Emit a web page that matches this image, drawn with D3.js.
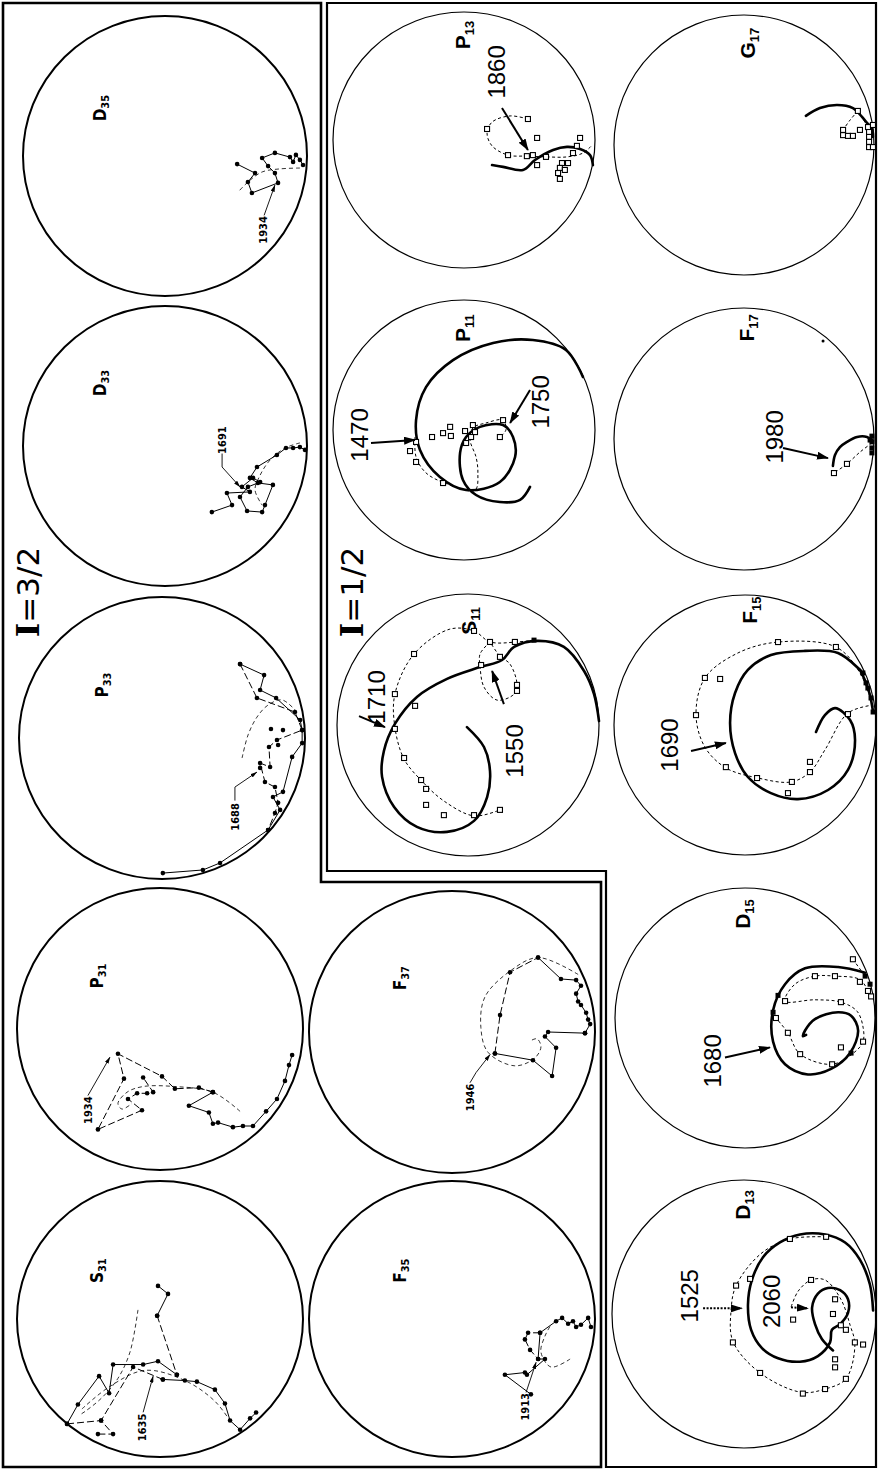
<!DOCTYPE html>
<html>
<head>
<meta charset="utf-8">
<title>Argand diagrams, I=3/2 and I=1/2</title>
<script src="https://cdnjs.cloudflare.com/ajax/libs/d3/7.8.5/d3.min.js"></script>
<style>
  body { margin: 0; background: #fff; }
  svg { display: block; }
</style>
</head>
<body>
<script>
// every point is [Im, Re] of the partial-wave amplitude, unitary circle: Im 0..1, Re -0.5..0.5
// the whole figure is turned 90 degrees, so Im runs right -> left and Re bottom -> top

// ---------- I = 3/2 (dots) ----------
var d35Solid = [[.014,-.032],[.025,-.014],[.039,.004],[.049,-.021],[.06,-.004],[.113,.011],[.158,-.007],[.137,-.036],[.113,-.061],[.102,-.096],[.194,-.132],[.208,-.093],[.183,-.061],[.246,-.029]];
var d35Curve = [[.025,-.043],[.095,-.046],[.158,-.057],[.208,-.093],[.243,-.129]];
var d35Note = ['1934', [.155,-.264], [[.151,-.212],[.113,-.104]]];

var d33Solid = [[.007,-.014],[.025,-.004],[.049,-.007],[.074,-.007],[.106,-.032],[.176,-.075],[.201,-.114],[.173,-.132],[.120,-.139],[.148,-.211],[.158,-.236],[.211,-.232],[.236,-.182],[.208,-.146],[.165,-.129],[.190,-.114],[.229,-.146],[.201,-.164],[.282,-.168],[.264,-.211],[.335,-.236]];
var d33Curve = [[.025,.011],[.077,-.007],[.130,-.05],[.165,-.104],[.183,-.157],[.158,-.211]];
var d33Note = ['1691', [.299,.021], [[.299,-.027],[.299,-.075],[.236,-.146]]];

var p33Solid = [[.497,-.479],[.357,-.468],[.297,-.443],[.129,-.326],[.087,-.255],[.112,-.209],[.077,-.191],[.045,-.067],[.010,-.018],[.010,.028],[.017,.064],[.101,.142],[.157,.170],[.143,.223],[.227,.262]];
var p33Dash = [[.227,.262],[.168,.142],[.035,.092],[.010,.028],[.098,-.007],[.126,-.032],[.122,-.103],[.157,-.089],[.140,-.156],[.105,-.174],[.094,-.230],[.105,-.266],[.129,-.326]];
var p33Curve = [[.220,-.071],[.199,.011],[.168,.074],[.129,.117],[.080,.135],[.028,.092]];
var p33Extra = [[.119,.032],[.077,.028],[.094,-.025],[.157,-.106]];
var p33Note = ['1688', [.245,-.280], [[.245,-.222],[.245,-.174],[.168,-.121]]];

var p31Solid = [[.038,-.092],[.049,-.128],[.063,-.184],[.091,-.248],[.129,-.292],[.175,-.344],[.210,-.344],[.245,-.348],[.297,-.332],[.315,-.336],[.329,-.296],[.399,-.272],[.315,-.224]];
var p31Dash = [[.315,-.224],[.364,-.208],[.448,-.212],[.493,-.168],[.647,-.088],[.626,-.176],[.717,-.356],[.563,-.288],[.612,-.248],[.580,-.228],[.545,-.228],[.524,-.224],[.559,-.172]];
var p31Curve = [[.220,-.292],[.315,-.224],[.448,-.204],[.559,-.204],[.615,-.224],[.647,-.264],[.633,-.284],[.598,-.264]];
var p31Note = ['1934', [.752,-.288], [[.752,-.236],[.675,-.1]]];

var s31Solid1 = [[.507,.120],[.472,.091],[.510,.012]];
var s31Solid2 = [[.490,-.219],[.413,-.223],[.371,-.227],[.308,-.256],[.273,-.306],[.255,-.368],[.220,-.401],[.185,-.360],[.164,-.339]];
var s31Solid3 = [[.441,-.202],[.507,-.153],[.559,-.165],[.664,-.165],[.678,-.269],[.713,-.207],[.787,-.310],[.825,-.380]];
var s31Dash1 = [[.510,.012],[.441,-.202]];
var s31Dash2 = [[.825,-.380],[.706,-.368],[.664,-.417],[.717,-.417]];
var s31Dash3 = [[.490,-.219],[.594,-.174],[.706,-.368]];
var s31CurveA = [[.577,.033],[.605,-.120],[.647,-.215],[.703,-.285],[.762,-.335],[.780,-.347]];
var s31CurveB = [[.773,-.326],[.675,-.244],[.552,-.186],[.413,-.223],[.308,-.298],[.248,-.380]];
var s31Note = ['1635', [.563,-.393], [[.559,-.338],[.524,-.207]]];

var f37Solid1 = [[.035,-.004],[.164,0],[.175,-.016],[.136,-.056],[.150,-.156],[.217,-.1],[.350,-.076]];
var f37Dash = [[.350,-.076],[.332,.06],[.297,.212],[.199,.264]];
var f37Solid2 = [[.199,.264],[.119,.188],[.066,.184],[.049,.164],[.066,.136],[.059,.108],[.049,.096],[.031,.068],[.024,.044],[.017,.028],[.035,-.004]];
var f37Curve = [[.059,.204],[.199,.264],[.297,.216],[.385,.124],[.399,.016],[.374,-.072],[.280,-.12],[.210,-.092],[.189,-.052],[.203,-.024],[.227,-.032]];
var f37Note = ['1946', [.437,-.232], [[.437,-.18],[.416,-.144],[.367,-.08]]];

var f35Solid = [[.014,-.029],[.024,.004],[.049,-.021],[.066,-.029],[.077,-.008],[.094,-.017],[.115,.004],[.136,-.008],[.192,-.050],[.199,-.145],[.175,-.145],[.238,-.202],[.245,-.194],[.315,-.202],[.224,-.273]];
var f35Dash = [[.192,-.05],[.234,-.05],[.245,-.074],[.227,-.112],[.199,-.145]];
var f35Curve = [[.087,-.145],[.154,-.174],[.189,-.120],[.175,-.062],[.154,-.021]];
var f35Note = ['1913', [.245,-.318], [[.241,-.266],[.206,-.157]]];

// ---------- I = 1/2 (squares, thick fitted curve) ----------
var p13Thick = [[.393,-.098],[.351,-.105],[.275,-.117],[.229,-.078],[.160,-.039],[.107,-.027],[.057,-.035],[.019,-.059],[.008,-.098]];
var p13Dash = [[.256,.082],[.324,.094],[.393,.070],[.412,.027],[.393,-.023],[.332,-.059],[.260,-.063],[.183,-.066],[.107,-.066],[.046,-.051],[.011,-.020]];
var p13Open = [[.256,.082],[.412,.043],[.332,-.059],[.260,-.063],[.237,-.059],[.187,-.066],[.221,.008],[.221,-.098],[.057,.008],[.069,-.023],[.084,-.051],[.126,-.090],[.103,-.090],[.134,-.109],[.115,-.117],[.141,-.129],[.134,-.152]];
var p13Notes = [['1860', [.374,.266], [.355,.125], [.256,-.039]]];

var g17Thick = [[.262,.112],[.208,.142],[.142,.154],[.081,.142],[.046,.108],[.027,.085],[.008,.065],[.004,.031]];
var g17Dash = [[.062,.131],[.092,.096],[.119,.058]];
var g17Dash2 = [[.062,.131],[.023,.069]];
var g17Open = [[.062,.131],[.119,.058],[.119,.038],[.1,.035],[.081,.035],[.054,.058],[.023,.069],[.019,.05],[.019,.031],[.019,.012],[.019,-.008],[.004,.077],[.004,-.008]];

var p11Thick = [[.046,.204],[.111,.308],[.237,.346],[.389,.335],[.542,.269],[.645,.165],[.683,.038],[.668,-.077],[.592,-.181],[.492,-.231],[.363,-.2],[.305,-.104],[.313,-.027],[.351,.019],[.439,.012],[.492,-.027],[.515,-.088],[.504,-.192],[.454,-.25],[.363,-.277],[.286,-.269],[.248,-.219]];
var p11Dash = [[.687,-.027],[.683,-.104],[.645,-.165],[.573,-.204],[.458,-.231],[.447,-.165],[.454,-.104],[.477,-.038],[.466,.008],[.416,.027],[.351,.038],[.340,.0],[.363,-.027]];
var p11Open = [[.683,-.046],[.706,-.081],[.683,-.123],[.622,-.027],[.580,-.012],[.553,.012],[.550,-.023],[.496,-.004],[.492,-.05],[.466,.019],[.458,-.008],[.473,-.027],[.580,-.204],[.363,-.027],[.351,.038]];
var p11Notes = [['1470', [.897,-.019], [.855,-.05], [.687,-.038]], ['1750', [.206,.108], [.248,.154], [.324,.027]]];

var f17Thick = [[.158,-.103],[.150,-.061],[.131,-.031],[.104,-.011],[.065,.008],[.027,.008],[.008,-.004]];
var f17Dash = [[.008,-.015],[.054,-.05],[.104,-.095],[.154,-.13]];
var f17Open = [[.104,-.095],[.154,-.13]];
var f17Filled = [[.015,-.004],[.008,.011],[.008,-.011],[.008,-.034],[.008,-.053]];
var f17Stray = [[.196,.374]];
var f17Notes = [['1980', [.381,.008], [.35,-.034], [.177,-.073]]];

var s11Thick = [[0,.015],[.019,.118],[.057,.206],[.134,.298],[.237,.321],[.324,.298],[.370,.248],[.454,.221],[.580,.176],[.695,.107],[.779,.004],[.821,-.099],[.828,-.198],[.782,-.313],[.695,-.389],[.580,-.408],[.477,-.366],[.427,-.275],[.416,-.176],[.439,-.084],[.504,-.008]];
var s11Dash = [[.248,.324],[.313,.317],[.416,.317],[.477,.359],[.569,.366],[.706,.271],[.779,.118],[.779,-.008],[.744,-.130],[.676,-.214],[.592,-.290],[.477,-.347],[.378,-.324]];
var s11Loop = [[.416,.317],[.454,.271],[.454,.225],[.439,.145],[.389,.095],[.324,.118],[.313,.156],[.340,.233],[.378,.263],[.416,.317]];
var s11Open = [[.477,.359],[.416,.317],[.321,.317],[.706,.271],[.779,.118],[.702,.073],[.779,-.015],[.744,-.126],[.679,-.210],[.660,-.244],[.660,-.305],[.592,-.344],[.477,-.344],[.378,-.324],[.450,.229],[.378,.260],[.313,.153],[.313,.130]];
var s11Filled = [[.248,.324]];
var s11Notes = [['1710', [.847,.107], [.916,.034], [.817,-.008]], ['1550', [.321,-.099], [.363,.080], [.408,.206]]];

var f15Thick = [[.050,.2],[.061,.212],[.145,.277],[.271,.285],[.401,.269],[.489,.212],[.538,.123],[.557,.008],[.538,-.108],[.489,-.2],[.401,-.262],[.298,-.285],[.183,-.25],[.107,-.173],[.080,-.058],[.099,.019],[.156,.065],[.195,.038],[.229,-.027]];
var f15Edge = [[.061,.212],[.038,.162],[.023,.115],[.011,.05]];
var f15Dash = [[.011,.069],[.061,.2],[.153,.3],[.374,.319],[.527,.277],[.653,.181],[.687,.038],[.653,-.085],[.573,-.165],[.450,-.204],[.324,-.219],[.252,-.181],[.195,-.096],[.107,.046],[.011,.077]];
var f15Open = [[.374,.319],[.153,.3],[.653,.181],[.595,.177],[.687,.038],[.573,-.162],[.454,-.204],[.321,-.219],[.336,-.262],[.252,-.181],[.252,-.142],[.107,.042]];
var f15Filled = [[.050,.2],[.038,.162],[.031,.142],[.019,.104],[.011,.05]];
var f15Notes = [['1690', [.786,-.077], [.706,-.1], [.573,-.069]]];

var d15Thick = [[.038,.174],[.142,.196],[.269,.191],[.346,.130],[.392,.030],[.392,-.091],[.346,-.178],[.258,-.217],[.169,-.196],[.096,-.135],[.065,-.048],[.092,.009],[.142,.022],[.231,-.004],[.269,-.048],[.277,-.070],[.265,-.065]];
var d15Dash = [[.027,.104],[.058,.148],[.154,.161],[.231,.161],[.308,.130],[.346,.065],[.231,.070],[.131,.061],[.069,.026],[.046,-.035],[.046,-.091],[.077,-.130],[.165,-.178],[.288,-.139],[.335,-.057],[.381,0]];
var d15Dash2 = [[.085,.226],[.038,.161]];
var d15Open = [[.085,.226],[.154,.161],[.231,.161],[.346,.065],[.131,.061],[.381,0],[.335,-.057],[.288,-.139],[.165,-.178],[.131,-.113],[.046,-.091],[.058,.139],[.027,.104],[.015,.083]];
var d15Filled = [[.373,.087],[.392,.022],[.092,-.135],[.038,.161],[.019,.130]];
var d15Notes = [['1680', [.623,-.165], [.577,-.152], [.404,-.113]]];

var d13Thick = [[.011,.013],[.023,.110],[.061,.203],[.117,.267],[.193,.297],[.288,.297],[.364,.267],[.428,.212],[.470,.127],[.485,.034],[.473,-.059],[.432,-.127],[.371,-.165],[.288,-.178],[.220,-.157],[.174,-.106],[.167,-.059],[.136,-.038],[.106,.004],[.106,.055],[.136,.089],[.182,.097],[.220,.076],[.242,.025],[.231,-.038],[.205,-.093],[.163,-.136]];
var d13Dash = [[.189,.288],[.326,.280],[.436,.225],[.530,.106],[.549,.013],[.542,-.102],[.439,-.220],[.284,-.292],[.193,-.280],[.114,-.242],[.080,-.114],[.098,-.042],[.133,.055],[.193,.127],[.246,.127],[.295,.085],[.322,.025]];
var d13Open = [[.326,.280],[.189,.288],[.477,.131],[.530,.106],[.542,-.106],[.439,-.220],[.277,-.297],[.193,-.280],[.114,-.242],[.155,-.199],[.155,-.169],[.080,-.106],[.049,-.114],[.114,-.059],[.133,-.042],[.163,0],[.155,.055],[.246,.127],[.314,-.021]];
var d13Notes = [['1525', [.705,.068], [.655,.021], [.508,.021], true], ['2060', [.394,.047], [.322,.025], [.258,.021], true]];

// ---------- layout ----------
var W = 878, H = 1473;
var svg = d3.select('body').append('svg').attr('width', W).attr('height', H);

var panels = [
  {name:'D', sub:'35', iso:3, cx:165, cy:156, rx:142, ry:140, nameAt:[.729,.171], solid:[d35Solid], dash:[], curves:[d35Curve], extra:[], note:d35Note},
  {name:'D', sub:'33', iso:3, cx:165, cy:446, rx:142, ry:140, nameAt:[.729,.225], solid:[d33Solid], dash:[], curves:[d33Curve], extra:[], note:d33Note},
  {name:'P', sub:'33', iso:3, cx:162, cy:738, rx:143, ry:141, nameAt:[.710,.188], solid:[p33Solid], dash:[p33Dash], curves:[p33Curve], extra:p33Extra, note:p33Note},
  {name:'P', sub:'31', iso:3, cx:160, cy:1029, rx:143, ry:141, nameAt:[.720,.188], solid:[p31Solid], dash:[p31Dash], curves:[p31Curve], extra:[], note:p31Note},
  {name:'S', sub:'31', iso:3, cx:160, cy:1319, rx:143, ry:138, nameAt:[.720,.175], solid:[s31Solid1,s31Solid2,s31Solid3], dash:[s31Dash1,s31Dash2,s31Dash3], curves:[s31CurveA,s31CurveB], extra:[], note:s31Note},
  {name:'F', sub:'37', iso:3, cx:452, cy:1032, rx:143, ry:141, nameAt:[.682,.191], solid:[f37Solid1,f37Solid2], dash:[f37Dash], curves:[f37Curve], extra:[], note:f37Note},
  {name:'F', sub:'35', iso:3, cx:452, cy:1319, rx:143, ry:138, nameAt:[.682,.175], solid:[f35Solid], dash:[f35Dash], curves:[f35Curve], extra:[], note:f35Note},

  {name:'P', sub:'13', iso:1, cx:464, cy:140, rx:131, ry:128, nameAt:[.504,.41], thick:[p13Thick], dash:[p13Dash], open:p13Open, filled:[], notes:p13Notes},
  {name:'G', sub:'17', iso:1, cx:744, cy:145, rx:130, ry:130, nameAt:[.485,.392], thick:[g17Thick], dash:[g17Dash,g17Dash2], open:g17Open, filled:[], notes:[]},
  {name:'P', sub:'11', iso:1, cx:464, cy:430, rx:131, ry:130, nameAt:[.504,.392], thick:[p11Thick], dash:[p11Dash], open:p11Open, filled:[], notes:p11Notes},
  {name:'F', sub:'17', iso:1, cx:744, cy:439, rx:130, ry:131, nameAt:[.488,.424], thick:[f17Thick], dash:[f17Dash], open:f17Open, filled:f17Filled, stray:f17Stray, notes:f17Notes},
  {name:'S', sub:'11', iso:1, cx:468, cy:725, rx:131, ry:131, nameAt:[.496,.397], thick:[s11Thick], dash:[s11Dash,s11Loop], open:s11Open, filled:s11Filled, notes:s11Notes},
  {name:'F', sub:'15', iso:1, cx:745, cy:725, rx:131, ry:130, nameAt:[.481,.442], thick:[f15Thick,f15Edge], dash:[f15Dash], open:f15Open, filled:f15Filled, notes:f15Notes},
  {name:'D', sub:'15', iso:1, cx:745, cy:1018, rx:130, ry:130, nameAt:[.508,.4], thick:[d15Thick], dash:[d15Dash,d15Dash2], open:d15Open, filled:d15Filled, notes:d15Notes},
  {name:'D', sub:'13', iso:1, cx:744, cy:1314, rx:132, ry:134, nameAt:[.504,.407], thick:[d13Thick], dash:[d13Dash], open:d13Open, filled:[], notes:d13Notes}
];

// arrow heads
var defs = svg.append('defs');
defs.append('marker').attr('id', 'bigHead')
  .attr('viewBox', '0 0 12 8').attr('refX', 11).attr('refY', 4)
  .attr('markerWidth', 12).attr('markerHeight', 8)
  .attr('markerUnits', 'userSpaceOnUse').attr('orient', 'auto')
  .append('path').attr('d', 'M0,0L12,4L0,8Z').attr('fill', '#000');
defs.append('marker').attr('id', 'smallHead')
  .attr('viewBox', '0 0 7 4').attr('refX', 6.5).attr('refY', 2)
  .attr('markerWidth', 7).attr('markerHeight', 4)
  .attr('markerUnits', 'userSpaceOnUse').attr('orient', 'auto')
  .append('path').attr('d', 'M0,0L7,2L0,4Z').attr('fill', '#000');

// frames (double rule between the two isospin blocks)
var frame = svg.append('g').attr('fill', 'none').attr('stroke', '#000');
frame.append('path').attr('stroke-width', 2.6)
  .attr('d', 'M3,3H321V882H601V1467H3Z');
frame.append('path').attr('stroke-width', 2.2)
  .attr('d', 'M327,3H876V1467H606V871H327Z');

// isospin titles
function vtext(sel, px, py) {
  return sel.append('text').attr('transform', 'translate(' + px + ',' + py + ') rotate(-90)')
    .attr('text-anchor', 'middle').attr('dy', '0.35em');
}
[['3/2', 28, 592], ['1/2', 352, 592]].forEach(function (t) {
  var tx = vtext(svg, t[1], t[2]).attr('font-family', 'DejaVu Sans').attr('font-size', 31);
  tx.append('tspan').attr('font-family', 'DejaVu Serif').attr('font-weight', 'bold').text('I');
  tx.append('tspan').text('=' + t[0]);
});

panels.forEach(function (p) {
  var x = d3.scaleLinear().domain([0, 1]).range([p.cx + p.rx, p.cx - p.rx]);
  var y = d3.scaleLinear().domain([-0.5, 0.5]).range([p.cy + p.ry, p.cy - p.ry]);
  var line = d3.line().x(function (d) { return x(d[0]); }).y(function (d) { return y(d[1]); });
  var smooth = d3.line().x(function (d) { return x(d[0]); }).y(function (d) { return y(d[1]); })
    .curve(d3.curveCatmullRom.alpha(0.5));
  var g = svg.append('g');

  // unitary circle
  g.append('ellipse').attr('cx', x(0.5)).attr('cy', y(0)).attr('rx', p.rx).attr('ry', p.ry)
    .attr('fill', 'none').attr('stroke', '#000').attr('stroke-width', p.iso === 3 ? 2 : 1.2);

  // wave name
  var big = p.iso === 1;
  var nm = vtext(g, x(p.nameAt[0]), y(p.nameAt[1])).attr('font-weight', 'bold')
    .attr('font-family', big ? 'Liberation Sans' : "'DejaVu Sans Condensed','DejaVu Sans'")
    .attr('font-size', big ? 21 : 17);
  nm.append('tspan').text(p.name);
  nm.append('tspan').attr('font-size', big ? 13 : 11).attr('dy', '0.3em').text(p.sub);

  if (p.iso === 3) {
    p.curves.forEach(function (c) {
      g.append('path').attr('d', smooth(c)).attr('fill', 'none').attr('stroke', '#000')
        .attr('stroke-width', 0.8).attr('stroke-dasharray', '4,3');
    });
    p.solid.forEach(function (s) {
      g.append('path').attr('d', line(s)).attr('fill', 'none').attr('stroke', '#000').attr('stroke-width', 1);
    });
    p.dash.forEach(function (s) {
      g.append('path').attr('d', line(s)).attr('fill', 'none').attr('stroke', '#000')
        .attr('stroke-width', 1).attr('stroke-dasharray', '7,3');
    });
    var dots = d3.merge(p.solid.concat(p.dash, [p.extra]));
    g.selectAll('circle.pt').data(dots).enter().append('circle').attr('class', 'pt')
      .attr('cx', function (d) { return x(d[0]); }).attr('cy', function (d) { return y(d[1]); })
      .attr('r', 2.3).attr('fill', '#000');
    // year label with leader
    var n = p.note;
    vtext(g, x(n[1][0]), y(n[1][1])).attr('font-family', "'DejaVu Sans Condensed','DejaVu Sans'")
      .attr('font-weight', 'bold').attr('font-size', 11).text(n[0]);
    g.append('path').attr('d', line(n[2])).attr('fill', 'none').attr('stroke', '#000')
      .attr('stroke-width', 0.9).attr('marker-end', 'url(#smallHead)');
  } else {
    p.dash.forEach(function (c) {
      g.append('path').attr('d', smooth(c)).attr('fill', 'none').attr('stroke', '#000')
        .attr('stroke-width', 1).attr('stroke-dasharray', '3,2.5');
    });
    p.thick.forEach(function (c) {
      g.append('path').attr('d', smooth(c)).attr('fill', 'none').attr('stroke', '#000')
        .attr('stroke-width', 2.6).attr('stroke-linecap', 'round');
    });
    var sq = 5;
    g.selectAll('rect.open').data(p.open).enter().append('rect').attr('class', 'open')
      .attr('x', function (d) { return x(d[0]) - sq / 2; }).attr('y', function (d) { return y(d[1]) - sq / 2; })
      .attr('width', sq).attr('height', sq).attr('fill', '#fff').attr('stroke', '#000').attr('stroke-width', 1.1);
    g.selectAll('rect.full').data(p.filled).enter().append('rect').attr('class', 'full')
      .attr('x', function (d) { return x(d[0]) - sq / 2; }).attr('y', function (d) { return y(d[1]) - sq / 2; })
      .attr('width', sq).attr('height', sq).attr('fill', '#000');
    if (p.stray) {
      g.selectAll('circle.stray').data(p.stray).enter().append('circle').attr('class', 'stray')
        .attr('cx', function (d) { return x(d[0]); }).attr('cy', function (d) { return y(d[1]); })
        .attr('r', 1.5).attr('fill', '#000');
    }
    p.notes.forEach(function (n) {
      vtext(g, x(n[1][0]), y(n[1][1])).attr('font-family', 'Liberation Sans')
        .attr('font-size', 24).text(n[0]);
      g.append('line').attr('x1', x(n[2][0])).attr('y1', y(n[2][1]))
        .attr('x2', x(n[3][0])).attr('y2', y(n[3][1]))
        .attr('stroke', '#000').attr('stroke-width', 2)
        .attr('stroke-dasharray', n[4] ? '2,1.5' : null)
        .attr('marker-end', 'url(#bigHead)');
    });
  }
});
</script>
</body>
</html>
